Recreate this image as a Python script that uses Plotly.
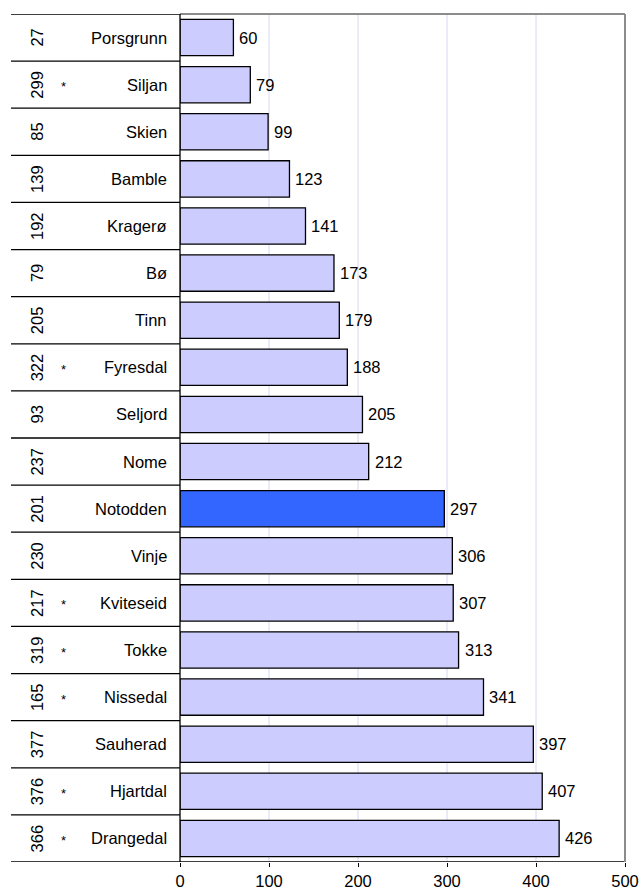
import plotly.graph_objects as go

# Municipalities, ranked values and side-table columns
kommuner = ["Porsgrunn", "Siljan", "Skien", "Bamble", "Kragerø", "Bø", "Tinn",
            "Fyresdal", "Seljord", "Nome", "Notodden", "Vinje", "Kviteseid",
            "Tokke", "Nissedal", "Sauherad", "Hjartdal", "Drangedal"]
verdier = [60, 79, 99, 123, 141, 173, 179, 188, 205, 212, 297, 306, 307,
           313, 341, 397, 407, 426]
rang = [27, 299, 85, 139, 192, 79, 205, 322, 93, 237, 201, 230, 217, 319,
        165, 377, 376, 366]
merket = ["", "*", "", "", "", "", "", "*", "", "", "", "", "*", "*", "*",
          "", "*", "*"]
x_ticks = [0, 100, 200, 300, 400, 500]

uthevet = "Notodden"
farger = ["#3366FF" if k == uthevet else "#CCCCFF" for k in kommuner]

FONT = "Liberation Sans, Arial, sans-serif"
FS = 16.5

W, H = 641, 892
L, R, T, B = 180, 16, 14, 30
plot_w = W - L - R


def px_to_paper(px):
    return (px - L) / plot_w


fig = go.Figure()
fig.add_trace(go.Bar(
    y=kommuner, x=verdier, orientation="h",
    marker=dict(color=farger, line=dict(color="black", width=1.3)),
    width=0.77,
    hoverinfo="skip",
))

ann = []
shapes = []
n = len(kommuner)
for i, k in enumerate(kommuner):
    # value label to the right of each bar
    ann.append(dict(x=verdier[i], y=k, xref="x", yref="y", text=str(verdier[i]),
                    showarrow=False, xanchor="left", xshift=4,
                    font=dict(family=FONT, size=FS, color="black")))
    # name column
    ann.append(dict(x=px_to_paper(169), y=k, xref="paper", yref="y", text=k,
                    showarrow=False, xanchor="right",
                    font=dict(family=FONT, size=FS, color="black")))
    # rotated rank number
    ann.append(dict(x=px_to_paper(26), y=k, xref="paper", yref="y", text=str(rang[i]),
                    showarrow=False, textangle=-90,
                    font=dict(family=FONT, size=FS, color="black")))
    if merket[i]:
        ann.append(dict(x=px_to_paper(59), y=k, xref="paper", yref="y", text=merket[i],
                        showarrow=False, yshift=-2,
                        font=dict(family=FONT, size=13, color="black")))

# row separators in the side table
for b in range(n + 1):
    yb = b - 0.5
    x1 = 1.0 if b == n else 0.0
    shapes.append(dict(type="line", xref="paper", yref="y",
                       x0=px_to_paper(11), x1=x1, y0=yb, y1=yb,
                       line=dict(color="black", width=1.3)))

# vertical gridlines
for t in x_ticks[1:-1]:
    shapes.append(dict(type="line", xref="x", yref="paper", x0=t, x1=t, y0=0, y1=1,
                       line=dict(color="#D6D6F2", width=1), layer="below"))

# frame: grey top and right edge, black value axis on the left
shapes.append(dict(type="line", xref="paper", yref="paper", x0=0, x1=1, y0=1, y1=1,
                   line=dict(color="#8C8C8C", width=2)))
shapes.append(dict(type="line", xref="paper", yref="paper", x0=1, x1=1, y0=0, y1=1,
                   line=dict(color="#8C8C8C", width=2)))
shapes.append(dict(type="line", xref="paper", yref="paper", x0=0, x1=0, y0=0, y1=1,
                   line=dict(color="black", width=1.3)))

fig.update_layout(
    width=W, height=H,
    margin=dict(l=L, r=R, t=T, b=B, autoexpand=False),
    paper_bgcolor="white", plot_bgcolor="white",
    showlegend=False,
    annotations=ann, shapes=shapes,
    font=dict(family=FONT, size=FS, color="black"),
    xaxis=dict(range=[0, 500], tickvals=x_ticks, showgrid=False, zeroline=False,
               showline=False, ticks="outside", ticklen=4, tickcolor="black",
               tickwidth=1, tickfont=dict(family=FONT, size=FS, color="black"),
               automargin=False, fixedrange=True),
    yaxis=dict(categoryorder="array", categoryarray=kommuner,
               range=[n - 0.5, -0.5], showticklabels=False, showgrid=False,
               zeroline=False, showline=False, ticks="", automargin=False,
               fixedrange=True),
)

fig.write_html("out.html")
